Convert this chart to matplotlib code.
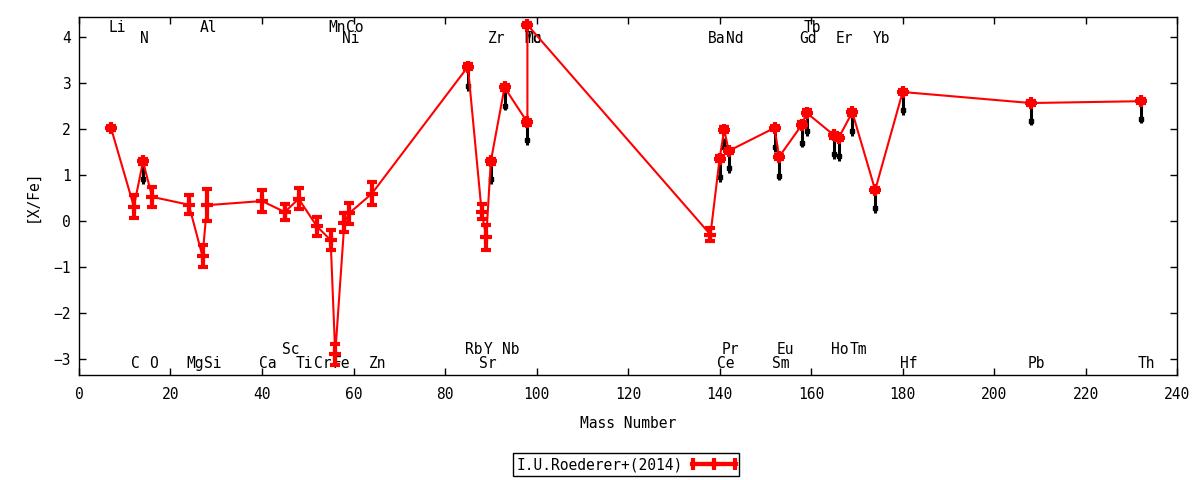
import matplotlib
matplotlib.use("Agg")
import matplotlib.pyplot as plt
from matplotlib.legend_handler import HandlerErrorbar
import numpy as np

# ---------------- data ----------------
elements = ['Li', 'C', 'N', 'O', 'Mg', 'Al', 'Si', 'Ca', 'Sc', 'Ti', 'Cr', 'Mn', 'Fe',
            'Ni', 'Co', 'Zn', 'Rb', 'Sr', 'Y', 'Zr', 'Nb', 'Mo', 'Tc', 'Ba', 'Ce', 'Pr',
            'Nd', 'Sm', 'Eu', 'Gd', 'Tb', 'Ho', 'Er', 'Tm', 'Yb', 'Hf', 'Pb', 'Th']
mass = [7, 12, 14, 16, 24, 27, 28, 40, 45, 48, 52, 55, 56,
        58, 59, 64, 85, 88, 89, 90, 93, 98, 98, 138, 140, 141,
        142, 152, 153, 158, 159, 165, 166, 169, 174, 180, 208, 232]
xfe = [2.02, 0.31, 1.29, 0.52, 0.35, -0.77, 0.34, 0.43, 0.19, 0.48, -0.12, -0.42, -2.90,
       -0.04, 0.16, 0.59, 3.35, 0.20, -0.36, 1.29, 2.90, 2.14, 4.26, -0.30, 1.35, 1.98,
       1.52, 2.02, 1.39, 2.09, 2.35, 1.86, 1.80, 2.36, 0.67, 2.80, 2.56, 2.60]
xfe_err = [0.04, 0.25, 0.05, 0.22, 0.21, 0.24, 0.35, 0.24, 0.17, 0.23, 0.20, 0.21, 0.23,
           0.20, 0.22, 0.25, 0.05, 0.17, 0.27, 0.05, 0.05, 0.05, 0.05, 0.14, 0.05, 0.05,
           0.05, 0.05, 0.05, 0.05, 0.05, 0.05, 0.05, 0.05, 0.05, 0.05, 0.05, 0.05]

# secondary (black) marks below some of the points
black_mass = [14, 85, 90, 93, 98, 140, 141, 142, 152, 153, 158, 159, 165, 166, 169, 174, 180, 208, 232]
black_val = [0.90, 2.93, 0.90, 2.50, 1.75, 0.95, 1.60, 1.15, 1.60, 0.98, 1.70, 1.95, 1.45, 1.40,
             1.95, 0.27, 2.40, 2.18, 2.22]
black_top = [1.22, 3.30, 1.24, 2.85, 2.10, 1.30, 1.80, 1.47, 1.97, 1.34, 2.04, 2.30, 1.81, 1.75,
             2.31, 0.62, 2.75, 2.51, 2.55]
black_err = [0.10] * len(black_mass)

# element label rows (element -> row)
label_rows = {
    4.20: ['Li', 'Al', 'Mn', 'Co', 'Tb'],
    3.96: ['N', 'Ni', 'Zr', 'Mo', 'Tc', 'Ba', 'Nd', 'Gd', 'Er', 'Yb'],
    -2.80: ['Sc', 'Rb', 'Y', 'Nb', 'Pr', 'Eu', 'Ho', 'Tm'],
    -3.10: ['C', 'O', 'Mg', 'Si', 'Ca', 'Ti', 'Cr', 'Fe', 'Zn', 'Sr', 'Ce', 'Sm', 'Hf', 'Pb', 'Th'],
}

xticks = list(range(0, 241, 20))
yticks = list(range(-3, 5))

# ---------------- plot ----------------
FONT = 'DejaVu Sans Mono'
plt.rcParams['font.family'] = [FONT]
plt.rcParams['font.size'] = 10

RED = '#ff0000'
fig = plt.figure(figsize=(12, 4.8), dpi=100)
ax = fig.add_axes([0.0658, 0.2188, 0.9152, 0.7458])

# black marks
b_lo = black_err
b_hi = [t - v for t, v in zip(black_top, black_val)]
ax.errorbar(black_mass, black_val, yerr=[b_lo, b_hi], fmt='s', color='black',
            ms=3, elinewidth=2.2, capsize=0, zorder=2)

# red series
ax.errorbar(mass, xfe, yerr=xfe_err, fmt='-', color=RED, lw=1.5,
            marker='+', ms=9, mew=3, elinewidth=3, capsize=3.8, capthick=3,
            zorder=3)

# legend proxy (horizontal sample like gnuplot's key)
proxy = ax.errorbar([np.nan], [np.nan], xerr=[1.0], fmt='-', color=RED, lw=3,
                    marker='+', ms=9, mew=3, elinewidth=3, capsize=4, capthick=3)

# element labels
name_to_mass = dict(zip(elements, mass))
for yrow, names in label_rows.items():
    for nm in names:
        ax.text(name_to_mass[nm] - 0.6, yrow, nm, ha='left', va='center',
                fontsize=10.5, color='black', zorder=1)

ax.set_xlim(0, 240)
ax.set_ylim(-3.35, 4.43)
ax.set_xticks(xticks)
ax.set_yticks(yticks)
ax.tick_params(direction='in', length=5, width=1, top=True, right=True,
               labelsize=10.5, pad=9)
ax.tick_params(axis='y', pad=6)
for s in ax.spines.values():
    s.set_linewidth(1)
ax.set_xlabel('Mass Number', fontsize=10.5, labelpad=10)
ax.set_ylabel('[X/Fe]', fontsize=10.5, labelpad=10)

leg = fig.legend(handles=[proxy], labels=['I.U.Roederer+(2014)'], loc='center',
                 bbox_to_anchor=(0.522, 0.032), markerfirst=False, fancybox=False,
                 framealpha=1, edgecolor='black', fontsize=10.5, handlelength=3,
                 borderpad=0.25, handletextpad=0.6,
                 handler_map={type(proxy): HandlerErrorbar(xerr_size=1.45)})
leg.get_frame().set_linewidth(1)

fig.savefig('out.png', dpi=100)
